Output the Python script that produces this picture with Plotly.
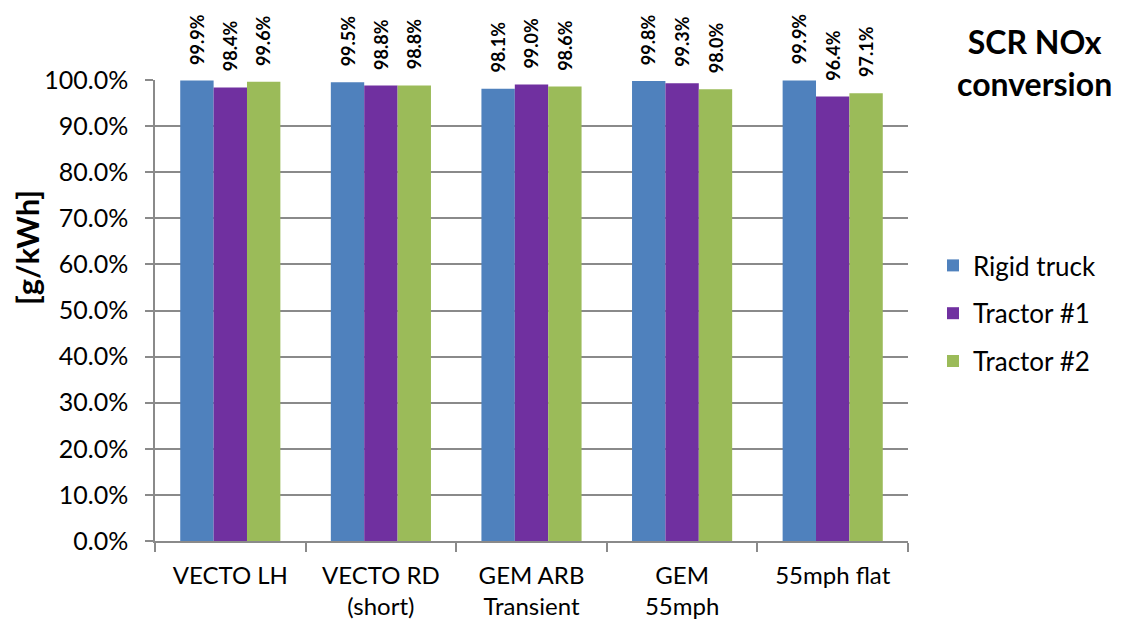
import plotly.graph_objects as go

# Test cycles and SCR NOx conversion efficiency per vehicle (percent)
cycles = ["VECTO LH", "VECTO RD<br>(short)", "GEM ARB<br>Transient", "GEM<br>55mph", "55mph flat"]
rigid_truck = [99.9, 99.5, 98.1, 99.8, 99.9]
tractor_1 = [98.4, 98.8, 99.0, 99.3, 96.4]
tractor_2 = [99.6, 98.8, 98.6, 98.0, 97.1]

series = [
    ("Rigid truck", rigid_truck, "#4F81BD"),
    ("Tractor #1", tractor_1, "#7030A0"),
    ("Tractor #2", tractor_2, "#9BBB59"),
]

FONT = "Lato, 'Open Sans', sans-serif"
GRID = "#8A8A8A"
BARGAP = 0.335

W, H = 1131, 633
ML, MR, MT, MB = 155, 223, 80, 92
plot_w = W - ML - MR
plot_h = H - MT - MB


def px_x(px):
    return (px - ML) / plot_w


def px_y(py):
    return (H - MB - py) / plot_h


fig = go.Figure()
for name, vals, color in series:
    fig.add_trace(go.Bar(
        x=cycles, y=vals, name=name, marker_color=color,
        marker_line_width=0, legendgroup=name,
    ))

# Rotated value labels above each bar
bar_w = (1 - BARGAP) / len(series)
annotations = []
for i, (name, vals, color) in enumerate(series):
    offset = (i - (len(series) - 1) / 2) * bar_w
    for j, v in enumerate(vals):
        annotations.append(dict(
            x=j + offset, y=v, xref="x", yref="y",
            text=f"<b>{v:.1f}%</b>", textangle=-90, showarrow=False,
            xanchor="center", yanchor="bottom", yshift=14,
            font=dict(family=FONT, size=18, color="black"),
        ))

# Chart title at the upper right
annotations.append(dict(
    x=px_x(1034), y=px_y(62), xref="paper", yref="paper",
    text="<b>SCR NOx<br>conversion</b>", showarrow=False,
    xanchor="center", yanchor="middle",
    font=dict(family=FONT, size=32, color="black"),
))

# Y-axis title
annotations.append(dict(
    x=px_x(27), y=px_y(248), xref="paper", yref="paper",
    text="<b>[g/kWh]</b>", textangle=-90, showarrow=False,
    xanchor="center", yanchor="middle",
    font=dict(family=FONT, size=31, color="black"),
))

fig.update_layout(
    width=W, height=H,
    margin=dict(l=ML, r=MR, t=MT, b=MB),
    paper_bgcolor="white", plot_bgcolor="white",
    barmode="group", bargap=BARGAP, bargroupgap=0,
    font=dict(family=FONT, size=24, color="black"),
    showlegend=True,
    legend=dict(
        x=px_x(933), y=px_y(242), xanchor="left", yanchor="top",
        traceorder="grouped", tracegroupgap=11,
        font=dict(family=FONT, size=26, color="black"),
        itemwidth=30,
    ),
    annotations=annotations,
)

fig.update_xaxes(
    type="category", tickson="boundaries", ticks="outside", ticklen=9,
    tickcolor=GRID, tickwidth=1.5,
    showline=True, linecolor=GRID, linewidth=1.5,
    showgrid=False, ticklabelstandoff=12,
    tickfont=dict(family=FONT, size=24, color="black"),
)
fig.update_yaxes(
    range=[0, 100], dtick=10, tickformat=".1f", ticksuffix="%",
    ticks="outside", ticklen=8, tickcolor=GRID, tickwidth=1.5,
    showline=True, linecolor=GRID, linewidth=1.5,
    showgrid=True, gridcolor=GRID, gridwidth=1.5,
    zeroline=False, ticklabelstandoff=12,
    tickfont=dict(family=FONT, size=25, color="black"),
)

fig.write_html("out.html")
